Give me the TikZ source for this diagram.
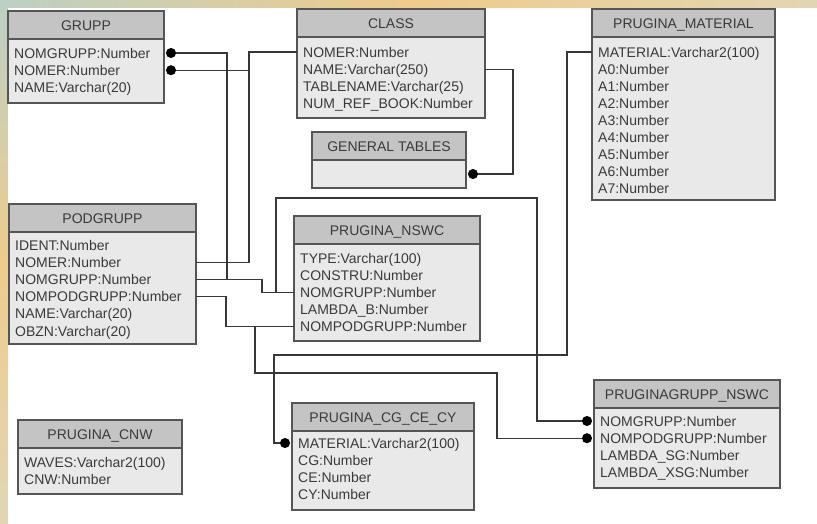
\documentclass[tikz,border=0pt]{standalone}
\usepackage{fontspec}
\setmainfont{Liberation Sans}
\usetikzlibrary{calc}
\usetikzlibrary{arrows.meta}

\definecolor{headgrey}{RGB}{196,196,196}
\definecolor{bodygrey}{RGB}{233,233,233}
\definecolor{framegrey}{RGB}{85,85,85}
\definecolor{textgrey}{RGB}{58,58,58}
\definecolor{linegrey}{RGB}{55,55,55}
\definecolor{bandteal}{RGB}{188,208,196}
\definecolor{bandsand}{RGB}{226,214,178}
\definecolor{bandorange}{RGB}{238,204,140}

\begin{document}
\begin{tikzpicture}
	[x=1pt,y=-1pt,
	tablehead/.style={rectangle,draw=framegrey,fill=headgrey,line width=1.3pt,outer sep=0pt,inner sep=0pt,anchor=north west,minimum height=28pt,text=textgrey,text height=10pt,text depth=0pt,font=\fontsize{14}{17}\selectfont},
	tablebody/.style={rectangle,draw=framegrey,fill=bodygrey,line width=1.3pt,outer sep=0pt,inner sep=0pt,anchor=north west},
	field/.style={anchor=west,inner xsep=6pt,inner ysep=0pt,text=textgrey,text height=10pt,text depth=0pt,font=\fontsize{14}{17}\selectfont},
	link/.style={draw=linegrey,line width=1.2pt},
	keydot/.style={-{Circle[length=10pt,color=black]},shorten >=2pt}]

	\useasboundingbox (0,0) rectangle (817,523);

	% Draw the background bands
	\shade[left color=bandteal,right color=bandsand,middle color=bandorange] (0,0) rectangle (817,8);
	\shade[top color=bandteal,bottom color=bandsand,middle color=bandorange] (0,0) rectangle (8,523);
	\fill[white] (8,8) rectangle (817,523);

	% Draw the tables
	\draw node at (8,11) [tablehead,minimum width=156pt](grupp){GRUPP}
		node at (grupp.south west) [tablebody,minimum width=156pt,minimum height=64pt](gruppBody){}
		node at ($(gruppBody.north west)+(0,14)$) [field](gruppNomgrupp){NOMGRUPP:Number}
		node at ($(gruppNomgrupp.west)+(0,17.2)$) [field](gruppNomer){NOMER:Number}
		node at ($(gruppNomer.west)+(0,17.2)$) [field](gruppName){NAME:Varchar(20)};

	\draw node at (297,9) [tablehead,minimum width=188pt](class){CLASS}
		node at (class.south west) [tablebody,minimum width=188pt,minimum height=81pt](classBody){}
		node at ($(classBody.north west)+(0,15)$) [field](classNomer){NOMER:Number}
		node at ($(classNomer.west)+(0,17.2)$) [field](className){NAME:Varchar(250)}
		node at ($(className.west)+(0,17.2)$) [field](classTablename){TABLENAME:Varchar(25)}
		node at ($(classTablename.west)+(0,17.2)$) [field](classNumref){NUM\_REF\_BOOK:Number};

	\draw node at (312,132) [tablehead,minimum width=154pt](general){GENERAL TABLES}
		node at (general.south west) [tablebody,minimum width=154pt,minimum height=28pt](generalBody){};

	\draw node at (592,9) [tablehead,minimum width=183pt](material){PRUGINA\_MATERIAL}
		node at (material.south west) [tablebody,minimum width=183pt,minimum height=163pt](materialBody){}
		node at ($(materialBody.north west)+(0,15)$) [field](materialMaterial){MATERIAL:Varchar2(100)}
		node at ($(materialMaterial.west)+(0,17.1)$) [field](materialA0){A0:Number}
		node at ($(materialA0.west)+(0,17.1)$) [field](materialA1){A1:Number}
		node at ($(materialA1.west)+(0,17.1)$) [field](materialA2){A2:Number}
		node at ($(materialA2.west)+(0,17.1)$) [field](materialA3){A3:Number}
		node at ($(materialA3.west)+(0,17.1)$) [field](materialA4){A4:Number}
		node at ($(materialA4.west)+(0,17.1)$) [field](materialA5){A5:Number}
		node at ($(materialA5.west)+(0,17.1)$) [field](materialA6){A6:Number}
		node at ($(materialA6.west)+(0,17.1)$) [field](materialA7){A7:Number};

	\draw node at (9,204) [tablehead,minimum width=187pt](podgrupp){PODGRUPP}
		node at (podgrupp.south west) [tablebody,minimum width=187pt,minimum height=112pt](podgruppBody){}
		node at ($(podgruppBody.north west)+(0,13)$) [field](podgruppIdent){IDENT:Number}
		node at ($(podgruppIdent.west)+(0,17.2)$) [field](podgruppNomer){NOMER:Number}
		node at ($(podgruppNomer.west)+(0,17.2)$) [field](podgruppNomgrupp){NOMGRUPP:Number}
		node at ($(podgruppNomgrupp.west)+(0,17.2)$) [field](podgruppNompodgrupp){NOMPODGRUPP:Number}
		node at ($(podgruppNompodgrupp.west)+(0,17.2)$) [field](podgruppName){NAME:Varchar(20)}
		node at ($(podgruppName.west)+(0,17.2)$) [field](podgruppObzn){OBZN:Varchar(20)};

	\draw node at (294,216) [tablehead,minimum width=186pt](nswc){PRUGINA\_NSWC}
		node at (nswc.south west) [tablebody,minimum width=186pt,minimum height=97pt](nswcBody){}
		node at ($(nswcBody.north west)+(0,14)$) [field](nswcType){TYPE:Varchar(100)}
		node at ($(nswcType.west)+(0,17.2)$) [field](nswcConstru){CONSTRU:Number}
		node at ($(nswcConstru.west)+(0,17.2)$) [field](nswcNomgrupp){NOMGRUPP:Number}
		node at ($(nswcNomgrupp.west)+(0,17.2)$) [field](nswcLambda){LAMBDA\_B:Number}
		node at ($(nswcLambda.west)+(0,17.2)$) [field](nswcNompodgrupp){NOMPODGRUPP:Number};

	\draw node at (18,420) [tablehead,minimum width=164pt](cnw){PRUGINA\_CNW}
		node at (cnw.south west) [tablebody,minimum width=164pt,minimum height=46pt](cnwBody){}
		node at ($(cnwBody.north west)+(0,14)$) [field](cnwWaves){WAVES:Varchar2(100)}
		node at ($(cnwWaves.west)+(0,17.2)$) [field](cnwCnw){CNW:Number};

	\draw node at (292,403) [tablehead,minimum width=182pt](cg){PRUGINA\_CG\_CE\_CY}
		node at (cg.south west) [tablebody,minimum width=182pt,minimum height=79pt](cgBody){}
		node at ($(cgBody.north west)+(0,12)$) [field](cgMaterial){MATERIAL:Varchar2(100)}
		node at ($(cgMaterial.west)+(0,17.3)$) [field](cgCg){CG:Number}
		node at ($(cgCg.west)+(0,17.3)$) [field](cgCe){CE:Number}
		node at ($(cgCe.west)+(0,17.3)$) [field](cgCy){CY:Number};

	\draw node at (594,380) [tablehead,minimum width=186pt](pg){PRUGINAGRUPP\_NSWC}
		node at (pg.south west) [tablebody,minimum width=186pt,minimum height=80pt](pgBody){}
		node at ($(pgBody.north west)+(0,13)$) [field](pgNomgrupp){NOMGRUPP:Number}
		node at ($(pgNomgrupp.west)+(0,17.2)$) [field](pgNompodgrupp){NOMPODGRUPP:Number}
		node at ($(pgNompodgrupp.west)+(0,17.2)$) [field](pgLambdaSg){LAMBDA\_SG:Number}
		node at ($(pgLambdaSg.west)+(0,17.2)$) [field](pgLambdaXsg){LAMBDA\_XSG:Number};

	% Bends of the links
	\coordinate (nomerBus) at (249,0);
	\coordinate (nomgruppBus) at (227,0);
	\coordinate (nswcBus) at (262,0);
	\coordinate (nomgruppRise) at (276,0);
	\coordinate (nomgruppTurn) at (537,198);
	\coordinate (nompodBus) at (226,0);
	\coordinate (nompodDrop) at (255,0);
	\coordinate (nompodTurn) at (497,373);
	\coordinate (materialTurn) at (567,355);
	\coordinate (materialDrop) at (274,0);
	\coordinate (tablesTurn) at (513,0);

	% Draw the links between the tables
	\draw[link] (classBody.west |- classNomer) -| (nomerBus |- podgruppNomer) -- (podgruppBody.east |- podgruppNomer);
	\draw[link,keydot] (nomerBus |- gruppNomer) -- (gruppBody.east |- gruppNomer);

	\draw[link,keydot] (nomgruppBus |- podgruppNomgrupp) |- (gruppBody.east |- gruppNomgrupp);
	\draw[link] (podgruppBody.east |- podgruppNomgrupp) -| (nswcBus |- nswcNomgrupp) -- (nswcBody.west |- nswcNomgrupp);
	\draw[link,keydot] (nomgruppRise |- nswcNomgrupp) |- (nomgruppTurn) -- (nomgruppTurn |- pgNomgrupp) -- (pgBody.west |- pgNomgrupp);

	\draw[link] (podgruppBody.east |- podgruppNompodgrupp) -| (nompodBus |- nswcNompodgrupp) -- (nswcBody.west |- nswcNompodgrupp);
	\draw[link,keydot] (nompodDrop |- nswcNompodgrupp) |- (nompodTurn) -- (nompodTurn |- pgNompodgrupp) -- (pgBody.west |- pgNompodgrupp);

	\draw[link,keydot] (materialBody.west |- materialMaterial) -| (materialTurn) -| (materialDrop |- cgMaterial) -- (cgBody.west |- cgMaterial);

	\draw[link,keydot] (classBody.east |- className) -| (tablesTurn |- generalBody) -- (generalBody.east);
\end{tikzpicture}
\end{document}
